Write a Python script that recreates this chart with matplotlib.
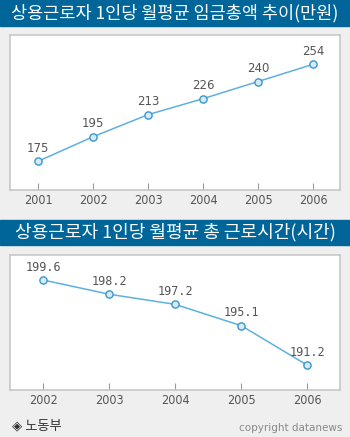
import matplotlib
matplotlib.use("Agg")
import matplotlib.pyplot as plt
from matplotlib.patches import Rectangle

plt.rcParams['font.family'] = ['Noto Sans CJK KR', 'DejaVu Sans']

# Average monthly total wage per regular worker (10,000 won)
wage_years = [2001, 2002, 2003, 2004, 2005, 2006]
wage_values = [175, 195, 213, 226, 240, 254]

# Average monthly total working hours per regular worker
hour_years = [2002, 2003, 2004, 2005, 2006]
hour_values = [199.6, 198.2, 197.2, 195.1, 191.2]

title_wage = "상용근로자 1인당 월평균 임금총액 추이(만원)"
title_hours = "상용근로자 1인당 월평균 총 근로시간(시간)"
source_text = "◈ 노동부"
credit_text = "copyright datanews"

W, H = 350, 437
BG = "#EFEFEF"
BAR = "#006699"
LINE = "#5FB0DF"
MEDGE = "#3A97CC"
MFACE = "#D6EAF7"
FRAME = "#C8C8C8"
TXT = "#555555"

fig = plt.figure(figsize=(W / 100, H / 100), dpi=100, facecolor=BG)


def fy(py):
    return 1 - py / H


def title_bar(top, bottom, text, size):
    fig.patches.append(Rectangle((0, fy(bottom)), 1, (bottom - top) / H,
                                 transform=fig.transFigure, color=BAR, zorder=0))
    fig.text(0.5, fy((top + bottom) / 2), text, color="white", fontsize=size,
             ha="center", va="center", fontweight="normal")


def panel(rect_px, years, values, xlim, ylim, fmt, label_font, label_size):
    x0, y0, x1, y1 = rect_px
    ax = fig.add_axes([x0 / W, fy(y1), (x1 - x0) / W, (y1 - y0) / H])
    ax.set_facecolor("white")
    ax.plot(years, values, color=LINE, lw=1.1, marker="o", ms=5.2,
            mfc=MFACE, mec=MEDGE, mew=1.0, zorder=3, clip_on=False)
    for x, v in zip(years, values):
        ax.annotate(fmt.format(v), (x, v), xytext=(0, 4.5), textcoords="offset points",
                    ha="center", va="bottom", color=TXT, fontsize=label_size,
                    family=label_font)
    ax.set_xlim(*xlim)
    ax.set_ylim(*ylim)
    ax.set_xticks(years)
    ax.set_xticklabels([str(y) for y in years], color=TXT, fontsize=9,
                       family=["DejaVu Sans"], fontstretch="condensed")
    ax.set_yticks([])
    ax.tick_params(axis="x", direction="in", length=5, color="#999999",
                   width=0.8, pad=3)
    for s in ax.spines.values():
        s.set_color(FRAME)
        s.set_linewidth(1.2)
    return ax


title_bar(0, 26, title_wage, 12.6)
panel((10, 35, 340, 190), wage_years, wage_values,
      (2000.49, 2006.49), (151.6, 277.9), "{:.0f}", ["DejaVu Sans"], 8.5)

title_bar(220, 245, title_hours, 13.0)
panel((10, 255, 340, 390), hour_years, hour_values,
      (2001.495, 2006.495), (188.76, 202.07), "{:.1f}", ["DejaVu Sans Mono"], 8.5)

fig.text(12 / W, fy(426), source_text, color="#333333", fontsize=9.5,
         ha="left", va="center")
fig.text(342 / W, fy(428), credit_text, color="#888888", fontsize=7.5,
         ha="right", va="center", family=["DejaVu Sans"])

fig.savefig("out.png", dpi=100, facecolor=BG)
